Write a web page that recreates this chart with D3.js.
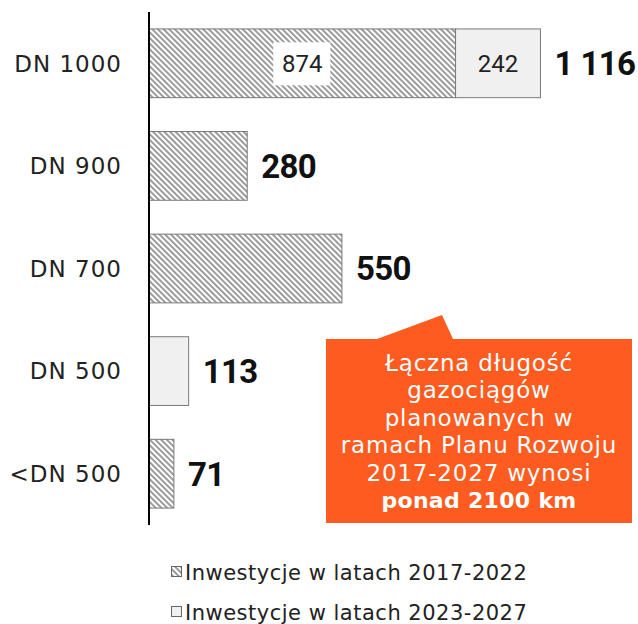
<!DOCTYPE html>
<html>
<head>
<meta charset="utf-8">
<script src="https://cdn.jsdelivr.net/npm/d3@7"></script>
<style>
  body { margin: 0; background: #fff; }
  svg { display: block; font-family: "Century Gothic", "DejaVu Sans", sans-serif; }
  .num { font-family: "Century Gothic", Roboto, sans-serif; }
</style>
</head>
<body>
<div id="chart"></div>
<script>
// categories, top to bottom
const categories = ["DN 1000", "DN 900", "DN 700", "DN 500", "<DN 500"];
// km of pipeline per period
const invest2017 = [874, 280, 550, 0, 71];
const invest2023 = [242, 0, 0, 113, 0];
const seriesNames = ["Inwestycje w latach 2017-2022", "Inwestycje w latach 2023-2027"];
const calloutLines = ["Łączna długość", "gazociągów", "planowanych w", "ramach Planu Rozwoju", "2017-2027 wynosi"];
const calloutBold = "ponad 2100 km";

const width = 638, height = 624;
const orange = "#fe5b21";

const svg = d3.select("#chart").append("svg")
  .attr("width", width)
  .attr("height", height);

const defs = svg.append("defs");
const pat = defs.append("pattern")
  .attr("id", "hatch")
  .attr("patternUnits", "userSpaceOnUse")
  .attr("width", 4)
  .attr("height", 4)
  .attr("patternTransform", "rotate(45)");
pat.append("rect").attr("width", 4).attr("height", 4).attr("fill", "#fff");
pat.append("rect").attr("width", 4).attr("height", 2).attr("fill", "#9c9c9c");

const rows = categories.map((c, i) => ({
  cat: c,
  a: invest2017[i],
  b: invest2023[i],
  total: invest2017[i] + invest2023[i]
}));

const x = d3.scaleLinear().domain([0, 1300]).range([149, 605]);
const y = d3.scaleBand().domain(categories).range([12, 525]).paddingInner(0.33).paddingOuter(0.165);

// category labels
svg.append("g")
  .selectAll("text")
  .data(rows)
  .join("text")
  .attr("x", 122)
  .attr("y", (d) => y(d.cat) + y.bandwidth() / 2)
  .attr("dy", "0.36em")
  .attr("text-anchor", "end")
  .attr("font-size", 23)
  .attr("letter-spacing", 1)
  .attr("fill", "#222")
  .text((d) => d.cat);

// bars: 2017-2022 (hatched)
svg.append("g")
  .selectAll("rect")
  .data(rows.filter((d) => d.a > 0))
  .join("rect")
  .attr("x", x(0))
  .attr("y", (d) => y(d.cat))
  .attr("width", (d) => x(d.a) - x(0))
  .attr("height", y.bandwidth())
  .attr("fill", "url(#hatch)")
  .attr("stroke", "#7a7a7a")
  .attr("stroke-width", 1);

// bars: 2023-2027 (light grey)
svg.append("g")
  .selectAll("rect")
  .data(rows.filter((d) => d.b > 0))
  .join("rect")
  .attr("x", (d) => x(d.a))
  .attr("y", (d) => y(d.cat))
  .attr("width", (d) => x(d.a + d.b) - x(d.a))
  .attr("height", y.bandwidth())
  .attr("fill", "#f0f0f0")
  .attr("stroke", "#7a7a7a")
  .attr("stroke-width", 1);

// inner labels where both segments exist
const both = rows.filter((d) => d.a > 0 && d.b > 0);
const inner = svg.append("g").attr("class", "num");
both.forEach((d) => {
  const cy = y(d.cat) + y.bandwidth() / 2;
  const cxA = (x(0) + x(d.a)) / 2;
  inner.append("rect")
    .attr("x", cxA - 29)
    .attr("y", cy - 21)
    .attr("width", 57)
    .attr("height", 43)
    .attr("fill", "#fff");
  inner.append("text")
    .attr("x", cxA)
    .attr("y", cy)
    .attr("dy", "0.36em")
    .attr("text-anchor", "middle")
    .attr("font-size", 24)
    .attr("fill", "#222")
    .text(d.a);
  inner.append("text")
    .attr("x", (x(d.a) + x(d.a + d.b)) / 2)
    .attr("y", cy)
    .attr("dy", "0.36em")
    .attr("text-anchor", "middle")
    .attr("font-size", 24)
    .attr("fill", "#222")
    .text(d.b);
});

// totals
const fmt = (v) => d3.format(",")(v).replace(/,/g, " ");
svg.append("g")
  .attr("class", "num")
  .selectAll("text")
  .data(rows)
  .join("text")
  .attr("x", (d) => x(d.total) + 14)
  .attr("y", (d) => y(d.cat) + y.bandwidth() / 2)
  .attr("dy", "0.36em")
  .attr("font-size", 33)
  .attr("font-weight", "bold")
  .attr("letter-spacing", -0.6)
  .attr("fill", "#111")
  .text((d) => fmt(d.total));

// axis line
svg.append("line")
  .attr("x1", x(0)).attr("x2", x(0))
  .attr("y1", 12).attr("y2", 525)
  .attr("stroke", "#000")
  .attr("stroke-width", 2);

// callout box
const call = svg.append("g");
call.append("path")
  .attr("d", "M326,339 L377,339 L442,315 L453,339 L632,339 L632,523 L326,523 Z")
  .attr("fill", orange);
const lineH = 27.4;
const ct = call.append("text")
  .attr("text-anchor", "middle")
  .attr("font-size", 23)
  .attr("letter-spacing", 0.8)
  .attr("fill", "#fff");
calloutLines.forEach((t, i) => {
  ct.append("tspan").attr("x", 479).attr("y", 371 + i * lineH).text(t);
});
ct.append("tspan")
  .attr("x", 479)
  .attr("y", 371 + calloutLines.length * lineH)
  .attr("font-weight", "bold")
  .attr("font-size", 22)
  .attr("letter-spacing", 0.3)
  .text(calloutBold);

// legend
const legend = svg.append("g");
const fills = ["url(#hatch)", "#f0f0f0"];
seriesNames.forEach((name, i) => {
  const ly = 572 + i * 40;
  legend.append("rect")
    .attr("x", 171.5).attr("y", ly - 5.5)
    .attr("width", 10).attr("height", 10)
    .attr("fill", fills[i])
    .attr("stroke", "#666");
  legend.append("text")
    .attr("x", 185)
    .attr("y", ly)
    .attr("dy", "0.36em")
    .attr("font-size", 21)
    .attr("letter-spacing", 0.5)
    .attr("fill", "#222")
    .text(name);
});
</script>
</body>
</html>
